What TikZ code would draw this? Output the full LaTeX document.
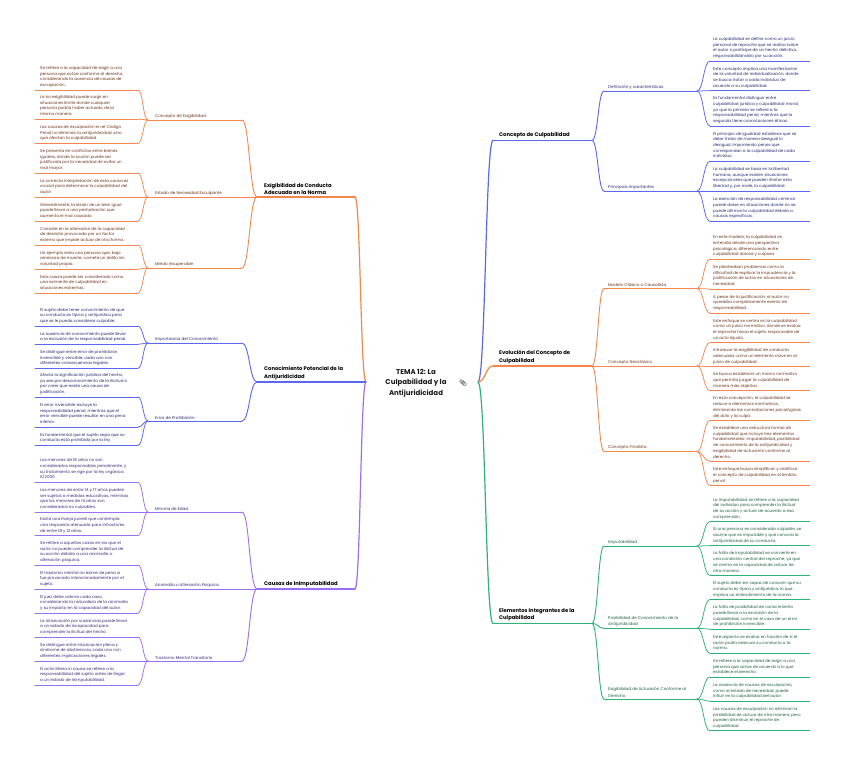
\documentclass[tikz,border=0pt]{standalone}
\usepackage{fontspec}
\setmainfont{Poppins}
\newfontfamily\emojifont{Noto Emoji}
\usetikzlibrary{calc}
\definecolor{orL}{HTML}{F7864C}
\definecolor{orT}{HTML}{6A341C}
\definecolor{blL}{HTML}{5A67F0}
\definecolor{blT}{HTML}{28296F}
\definecolor{grL}{HTML}{2FB277}
\definecolor{grT}{HTML}{1D5E40}
\definecolor{puL}{HTML}{9C6FF2}
\definecolor{puT}{HTML}{3D2778}
\tikzset{
  brace/.style={to path={let \p1=(\tikztostart), \p2=(\tikztotarget) in
     .. controls ({(\x1+\x2)/2},\y1) and ({(\x1+\x2)/2},\y2) .. (\tikztotarget)}},
  leaf/.style={anchor=south west, inner xsep=3pt, inner ysep=1.5pt, align=left,
     font=\fontsize{4.05}{5.67}\selectfont},
  subn/.style={anchor=south west, inner xsep=4pt, inner ysep=1.6pt, align=left,
     font=\fontsize{4.1}{6.3}\selectfont},
  mainn/.style={anchor=south west, inner xsep=6pt, inner ysep=2pt, align=left,
     font=\fontsize{5.25}{7.5}\selectfont\bfseries, text=black},
  title/.style={align=center, font=\fontsize{7}{10.5}\selectfont\bfseries, text=black!90},
  lf/.style={line width=0.75pt, line cap=round},
  sl/.style={line width=0.9pt, line cap=round},
  ml/.style={line width=1.2pt, line cap=round},
}
% right leaf: name, y, colour, text
\newcommand\RL[4]{\node[leaf,text=#3T] (#1) at (710,#2) {#4\strut};
  \draw[lf,draw=#3L] (#1.south west) -- ++(100,0);}
% left leaf
\newcommand\LL[4]{\node[leaf,inner xsep=5pt,text=#3T] (#1) at (35,#2) {#4\strut};
  \coordinate (#1e) at (138,#2);
  \draw[lf,draw=#3L] (#1.south west) -- (#1e);}
\begin{document}
\begin{tikzpicture}[x=1pt,y=-1pt]
\useasboundingbox (0,0) rectangle (848,765);
\fill[white] (0,0) rectangle (848,765);

% ---------------- centre
\node[title] (c) at (416,383) {TEMA 12: La\\Culpabilidad y la\\Antijuridicidad};
\coordinate (cL) at (366,382);
\coordinate (cR) at (478,382);
\node[inner sep=0pt, text=black!85, font=\emojifont\fontsize{6.5}{7}\selectfont] (ic) at (463,383) {📎};

% ================= RIGHT SIDE
% main branches
\node[mainn] (mCon) at (493,140.4) {Concepto de Culpabilidad};
\coordinate (jCon) at (592,140.4);
\draw[ml,draw=blL] (mCon.south west) -- (jCon);
\draw[ml,draw=blL] (cR) to[brace] (mCon.south west);

\node[mainn] (mEvo) at (493,366) {Evolución del Concepto de\\Culpabilidad};
\coordinate (jEvo) at (592,366);
\draw[ml,draw=orL] (mEvo.south west) -- (jEvo);
\draw[ml,draw=orL] (cR) to[brace] (mEvo.south west);

\node[mainn] (mEle) at (493,623.3) {Elementos Integrantes de la\\Culpabilidad};
\coordinate (jEle) at (592,623.3);
\draw[ml,draw=grL] (mEle.south west) -- (jEle);
\draw[ml,draw=grL] (cR) to[brace] (mEle.south west);

% sub branches right
\node[subn,text=blT] (sDef) at (604,91) {Definición y características};
\coordinate (jDef) at (697,91);
\node[subn,text=blT] (sPri) at (604,191) {Principios importantes};
\coordinate (jPri) at (697,191);
\node[subn,text=orT] (sMod) at (604,288.5) {Modelo Clásico o Causalista};
\coordinate (jMod) at (697,288.5);
\node[subn,text=orT] (sNeo) at (604,366) {Concepto Neoclásico};
\coordinate (jNeo) at (697,366);
\node[subn,text=orT] (sFin) at (604,451.5) {Concepto Finalista};
\coordinate (jFin) at (697,451.5);
\node[subn,text=grT] (sImp) at (604,546) {Imputabilidad};
\coordinate (jImp) at (697,546);
\node[subn,text=grT] (sPos) at (604,628.2) {Posibilidad de Conocimiento de la\\Antijuridicidad};
\coordinate (jPos) at (697,628.2);
\node[subn,text=grT] (sExi) at (604,699) {Exigibilidad de Actuación Conforme al\\Derecho};
\coordinate (jExi) at (697,699);
\foreach \s/\j/\c/\m in {sDef/jDef/blL/jCon, sPri/jPri/blL/jCon, sMod/jMod/orL/jEvo,
   sNeo/jNeo/orL/jEvo, sFin/jFin/orL/jEvo, sImp/jImp/grL/jEle, sPos/jPos/grL/jEle, sExi/jExi/grL/jEle}{
  \draw[sl,draw=\c] (\s.south west) -- (\j);
  \draw[sl,draw=\c] (\m) to[brace] (\s.south west);
}

% leaves right
\RL{r1}{61}{bl}{La culpabilidad se define como un juicio\\personal de reproche que se realiza sobre\\el autor o partícipe de un hecho delictivo,\\responsabilizándolo por su acción.}
\RL{r2}{90.7}{bl}{Este concepto implica una manifestación\\de la voluntad de individualización, donde\\se busca tratar a cada individuo de\\acuerdo a su culpabilidad.}
\RL{r3}{126}{bl}{Es fundamental distinguir entre\\culpabilidad jurídica y culpabilidad moral,\\ya que la primera se refiere a la\\responsabilidad penal, mientras que la\\segunda tiene connotaciones éticas.}
\RL{r4}{161.3}{bl}{El principio de igualdad establece que se\\debe tratar de manera desigual lo\\desigual, imponiendo penas que\\correspondan a la culpabilidad de cada\\individuo.}
\RL{r5}{191}{bl}{La culpabilidad se basa en la libertad\\humana, aunque existen situaciones\\excepcionales que pueden limitar esta\\libertad y, por ende, la culpabilidad.}
\RL{r6}{221.4}{bl}{La exención de responsabilidad criminal\\puede darse en situaciones donde no se\\puede afirmar la culpabilidad debido a\\causas específicas.}
\RL{r7}{259.3}{or}{En este modelo, la culpabilidad se\\entendía desde una perspectiva\\psicológica, diferenciando entre\\culpabilidad dolosa y culposa.}
\RL{r8}{289}{or}{Se planteaban problemas como la\\dificultad de explicar la imprudencia y la\\justificación de actos en situaciones de\\necesidad.}
\RL{r9}{313}{or}{A pesar de la justificación, el autor no\\quedaba completamente exento de\\responsabilidad.}
\RL{r10}{342.7}{or}{Este enfoque se centra en la culpabilidad\\como un juicio normativo, donde se evalúa\\el reproche hacia el sujeto responsable de\\un acto injusto.}
\RL{r11}{366.7}{or}{Introduce la exigibilidad de conducta\\adecuada como un elemento clave en el\\juicio de culpabilidad.}
\RL{r12}{390.7}{or}{Se busca establecer un marco normativo\\que permita juzgar la culpabilidad de\\manera más objetiva.}
\RL{r13}{420.4}{or}{En esta concepción, la culpabilidad se\\reduce a elementos normativos,\\eliminando las connotaciones psicológicas\\del dolo y la culpa.}
\RL{r14}{461.4}{or}{Se establece una estructura formal de\\culpabilidad que incluye tres elementos\\fundamentales: imputabilidad, posibilidad\\de conocimiento de la antijuridicidad y\\exigibilidad de actuación conforme al\\derecho.}
\RL{r15}{485.4}{or}{Este enfoque busca simplificar y clarificar\\el concepto de culpabilidad en el ámbito\\penal.}
\RL{r16}{521.7}{gr}{La imputabilidad se refiere a la capacidad\\del individuo para comprender la ilicitud\\de su acción y actuar de acuerdo a esa\\comprensión.}
\RL{r17}{545.7}{gr}{Si una persona es considerada culpable, se\\asume que es imputable y que conocía la\\antijuridicidad de su conducta.}
\RL{r18}{575.4}{gr}{La falta de imputabilidad se convierte en\\una condición central del reproche, ya que\\se centra en la capacidad de actuar de\\otra manera.}
\RL{r19}{599.4}{gr}{El sujeto debe ser capaz de conocer que su\\conducta es típica y antijurídica, lo que\\implica un entendimiento de la norma.}
\RL{r20}{629.1}{gr}{La falta de posibilidad de conocimiento\\puede llevar a la exclusión de la\\culpabilidad, como en el caso de un error\\de prohibición invencible.}
\RL{r21}{653.1}{gr}{Este aspecto se evalúa en función de si el\\autor podía adecuar su conducta a la\\norma.}
\RL{r22}{677.1}{gr}{Se refiere a la capacidad de exigir a una\\persona que actúe de acuerdo a lo que\\establece el derecho.}
\RL{r23}{701.1}{gr}{La ausencia de causas de exculpación,\\como el estado de necesidad, puede\\influir en la culpabilidad del autor.}
\RL{r24}{730.8}{gr}{Las causas de exculpación no eliminan la\\posibilidad de actuar de otra manera, pero\\pueden disminuir el reproche de\\culpabilidad.}
\foreach \l/\j/\c in {r1/jDef/blL, r2/jDef/blL, r3/jDef/blL, r4/jPri/blL, r5/jPri/blL, r6/jPri/blL,
  r7/jMod/orL, r8/jMod/orL, r9/jMod/orL, r10/jNeo/orL, r11/jNeo/orL, r12/jNeo/orL,
  r13/jFin/orL, r14/jFin/orL, r15/jFin/orL, r16/jImp/grL, r17/jImp/grL, r18/jImp/grL,
  r19/jPos/grL, r20/jPos/grL, r21/jPos/grL, r22/jExi/grL, r23/jExi/grL, r24/jExi/grL}{
  \draw[lf,draw=\c] (\j) to[brace] (\l.south west);
}

% ================= LEFT SIDE
\node[mainn,inner xsep=7pt] (mExg) at (257,197) {Exigibilidad de Conducta\\Adecuada en la Norma};
\coordinate (eExg) at (355,197);
\draw[ml,draw=orL] (mExg.south west) -- (eExg);
\draw[ml,draw=orL] (eExg) to[brace] (cL);

\node[mainn,inner xsep=7pt] (mCop) at (257,382) {Conocimiento Potencial de la\\Antijuridicidad};
\coordinate (eCop) at (360,382);
\draw[ml,draw=blL] (mCop.south west) -- (eCop);
\draw[ml,draw=blL] (eCop) to[brace] (cL);

\node[mainn,inner xsep=7pt] (mCau) at (257,589) {Causas de Inimputabilidad};
\coordinate (eCau) at (355,589);
\draw[ml,draw=puL] (mCau.south west) -- (eCau);
\draw[ml,draw=puL] (eCau) to[brace] (cL);

% sub branches left
\node[subn,inner xsep=7pt,text=orT] (sCE) at (148,120) {Concepto de Exigibilidad};
\node[subn,inner xsep=7pt,text=orT] (sEN) at (148,197) {Estado de Necesidad Exculpante};
\node[subn,inner xsep=7pt,text=orT] (sMI) at (148,268) {Miedo Insuperable};
\node[subn,inner xsep=7pt,text=blT] (sIC) at (148,343) {Importancia del Conocimiento};
\node[subn,inner xsep=7pt,text=blT] (sEP) at (148,421) {Error de Prohibición};
\node[subn,inner xsep=7pt,text=puT] (sME) at (148,512) {Minoría de Edad};
\node[subn,inner xsep=7pt,text=puT] (sAA) at (148,589) {Anomalía o Alteración Psíquica};
\node[subn,inner xsep=7pt,text=puT] (sTM) at (148,661) {Trastorno Mental Transitorio};
\foreach \s/\y/\c/\m in {sCE/120/orL/mExg, sEN/197/orL/mExg, sMI/268/orL/mExg,
   sIC/343/blL/mCop, sEP/421/blL/mCop, sME/512/puL/mCau, sAA/589/puL/mCau, sTM/661/puL/mCau}{
  \coordinate (\s e) at (242,\y);
  \draw[sl,draw=\c] (\s.south west) -- (\s e);
  \draw[sl,draw=\c] (\s e) to[brace] (\m.south west);
}

% leaves left
\LL{l1}{90}{or}{Se refiere a la capacidad de exigir a una\\persona que actúe conforme al derecho,\\considerando la ausencia de causas de\\exculpación.}
\LL{l2}{119}{or}{La no exigibilidad puede surgir en\\situaciones límite donde cualquier\\persona podría haber actuado de la\\misma manera.}
\LL{l3}{143.3}{or}{Las causas de exculpación en el Código\\Penal no eliminan la antijuridicidad, sino\\que afectan la culpabilidad.}
\LL{l4}{173}{or}{Se presenta en conflictos entre bienes\\iguales, donde la acción puede ser\\justificada por la necesidad de evitar un\\mal mayor.}
\LL{l5}{197}{or}{La correcta interpretación de esta causa es\\crucial para determinar la culpabilidad del\\autor.}
\LL{l6}{221}{or}{Generalmente, la lesión de un bien igual\\puede llevar a una perturbación que\\aumenta el mal causado.}
\LL{l7}{245}{or}{Consiste en la alteración de la capacidad\\de decisión provocada por un factor\\externo que impide actuar de otra forma.}
\LL{l8}{269}{or}{Un ejemplo sería una persona que, bajo\\amenaza de muerte, comete un delito sin\\voluntad propia.}
\LL{l9}{293}{or}{Esta causa puede ser considerada como\\una eximente de culpabilidad en\\situaciones extremas.}
\LL{l10}{326}{bl}{El sujeto debe tener conocimiento de que\\su conducta es típica y antijurídica para\\que se le pueda considerar culpable.}
\LL{l11}{344.3}{bl}{La ausencia de conocimiento puede llevar\\a la exclusión de la responsabilidad penal.}
\LL{l12}{368.3}{bl}{Se distingue entre error de prohibición\\invencible y vencible, cada uno con\\diferentes consecuencias legales.}
\LL{l13}{397}{bl}{Afecta la significación jurídica del hecho,\\ya sea por desconocimiento de la ilicitud o\\por creer que existe una causa de\\justificación.}
\LL{l14}{427}{bl}{El error invencible excluye la\\responsabilidad penal, mientras que el\\error vencible puede resultar en una pena\\inferior.}
\LL{l15}{445.3}{bl}{Es fundamental que el sujeto sepa que su\\conducta está prohibida por la ley.}
\LL{l16}{482.3}{pu}{Los menores de 18 años no son\\considerados responsables penalmente, y\\su tratamiento se rige por la ley orgánica\\5/2000.}
\LL{l17}{512}{pu}{Los menores de entre 14 y 17 años pueden\\ser sujetos a medidas educativas, mientras\\que los menores de 14 años son\\considerados no culpables.}
\LL{l18}{535.5}{pu}{Existe una franja juvenil que contempla\\una respuesta atenuada para infractores\\de entre 18 y 21 años.}
\LL{l19}{565}{pu}{Se refiere a aquellos casos en los que el\\autor no puede comprender la ilicitud de\\su acción debido a una anomalía o\\alteración psíquica.}
\LL{l20}{589}{pu}{El trastorno mental no exime de pena si\\fue provocado intencionadamente por el\\sujeto.}
\LL{l21}{613}{pu}{El juez debe valorar cada caso,\\considerando la naturaleza de la anomalía\\y su impacto en la capacidad del autor.}
\LL{l22}{637}{pu}{La intoxicación por sustancias puede llevar\\a un estado de incapacidad para\\comprender la ilicitud del hecho.}
\LL{l23}{661}{pu}{Se distingue entre intoxicación plena y\\síndrome de abstinencia, cada uno con\\diferentes implicaciones legales.}
\LL{l24}{685}{pu}{El actio libera in causa se refiere a la\\responsabilidad del sujeto antes de llegar\\a un estado de inimputabilidad.}
\foreach \l/\s/\c in {l1/sCE/orL, l2/sCE/orL, l3/sCE/orL, l4/sEN/orL, l5/sEN/orL, l6/sEN/orL,
  l7/sMI/orL, l8/sMI/orL, l9/sMI/orL, l10/sIC/blL, l11/sIC/blL, l12/sIC/blL,
  l13/sEP/blL, l14/sEP/blL, l15/sEP/blL, l16/sME/puL, l17/sME/puL, l18/sME/puL,
  l19/sAA/puL, l20/sAA/puL, l21/sAA/puL, l22/sTM/puL, l23/sTM/puL, l24/sTM/puL}{
  \draw[lf,draw=\c] (\l e) to[brace] (\s.south west);
}
\end{tikzpicture}
\end{document}
